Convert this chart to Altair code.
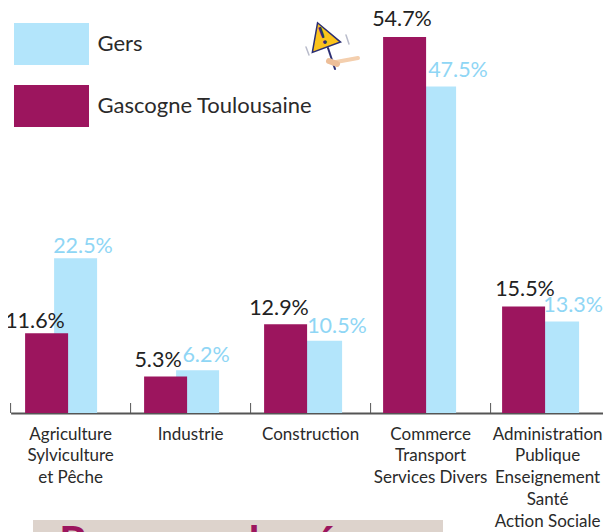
import altair as alt
import pandas as pd

categories = ["Agriculture\nSylviculture\net Pêche", "Industrie", "Construction",
              "Commerce\nTransport\nServices Divers",
              "Administration\nPublique\nEnseignement\nSanté\nAction Sociale"]
gascogne = [11.6, 5.3, 12.9, 54.7, 15.5]
gers = [22.5, 6.2, 10.5, 47.5, 13.3]
series_names = ["Gers", "Gascogne Toulousaine"]
colors = ["#B3E5FB", "#9C155E"]

df = pd.DataFrame({"cat": categories, "Gascogne Toulousaine": gascogne, "Gers": gers})
long = df.melt("cat", var_name="serie", value_name="val")
long["label"] = long["val"].map(lambda v: f"{v:.1f}%")

# Style tweaks per category (pixels)
BAR = 43
purple_off = [-24, -25, -25, -26, -27]
gers_off = [5, 7, 10, 4, 7]
g_dx = [-35.6, -32.6, -31.6, -28.6, -25.6]
g_dy = [-11, -16, -15, -17, -16.5]
l_dx = [12.4, 15.4, 26.4, 27.4, 22.5]
l_dy = [-11, -14, -14, -15, -15.5]

H = 405
x_scale = alt.Scale(range=[0, 600], paddingInner=0, paddingOuter=0)
x_axis = alt.Axis(title=None, labelAngle=0, labelFont="Lato", labelFontSize=17,
                  labelColor="#2a2a2a", labelLimit=0, labelOverlap=False,
                  labelPadding=13, labelLineHeight=21.8, ticks=False,
                  domainColor="#555555", domainWidth=2,
                  labelOffset=alt.expr("datum.index === 1 ? -3 : 0"),
                  labelExpr="split(datum.label, '\\n')")
x = alt.X("cat:N", sort=categories, scale=x_scale, axis=x_axis)
y = alt.Y("val:Q", scale=alt.Scale(domain=[0, 58.9], nice=False), axis=None)
color = alt.Color("serie:N", sort=series_names,
                  scale=alt.Scale(domain=series_names, range=colors),
                  legend=alt.Legend(title=None, orient="none", legendX=19.9, legendY=15,
                                    symbolType="M-1.786,-1H1.786V1H-1.786Z", symbolSize=1764,
                                    symbolStrokeWidth=0, symbolOpacity=1, rowPadding=20,
                                    labelFont="Lato", labelFontSize=22, labelColor="#2a2a2a",
                                    labelOffset=25, labelLimit=0))

OX, OY = 10.6, 8


def px(v):
    return alt.value(v - OX)


def py(v):
    return alt.value(v - OY)


base_src = pd.DataFrame({"k": [0]})
layers = []

# beige panel with clipped heading at the foot of the page
layers.append(alt.Chart(base_src).mark_rect(color="#DDD3CC").encode(
    x=px(33), x2=px(443), y=py(520), y2=py(560)))
layers.append(alt.Chart(base_src).mark_text(font="Lato", fontSize=44, fontWeight="bold", color="#9C155E",
                                            align="left", baseline="alphabetic", text="Revenus des é").encode(
    x=px(59), y=py(558)))

for i, c in enumerate(categories):
    sub = alt.Chart(long[(long.cat == c) & (long.serie == "Gers")])
    layers.append(sub.mark_bar(width=BAR, xOffset=gers_off[i]).encode(x=x, y=y, color=color))
for i, c in enumerate(categories):
    sub = alt.Chart(long[(long.cat == c) & (long.serie == "Gascogne Toulousaine")])
    layers.append(sub.mark_bar(width=BAR, xOffset=purple_off[i]).encode(x=x, y=y, color=color))
for i, c in enumerate(categories):
    a = alt.Chart(long[(long.cat == c) & (long.serie == "Gascogne Toulousaine")]).mark_text(
        font="Lato", fontSize=21.5, color="#222222", dx=g_dx[i], dy=g_dy[i], baseline="middle"
    ).encode(x=x, y=y, text="label:N")
    b = alt.Chart(long[(long.cat == c) & (long.serie == "Gers")]).mark_text(
        font="Lato", fontSize=21.5, color="#8FD6F5", dx=l_dx[i], dy=l_dy[i], baseline="middle"
    ).encode(x=x, y=y, text="label:N")
    layers += [a, b]

# inward ticks on the band boundaries
layers.append(alt.Chart(pd.DataFrame({"cat": categories})).mark_rule(color="#555555", strokeWidth=1).encode(
    x=alt.X("cat:N", sort=categories, bandPosition=0, scale=x_scale, axis=x_axis),
    y=alt.value(H - 10), y2=alt.value(H)))


# little warning-sign pictogram
def seg(x1, y1, x2, y2, col, w):
    return alt.Chart(base_src).mark_rule(color=col, strokeWidth=w, strokeCap="round").encode(
        x=px(x1), x2=px(x2), y=py(y1), y2=py(y2))


layers += [
    seg(328, 48, 335, 69, "#2B2E73", 2),
    seg(336, 62, 358, 58, "#F4CFAE", 4),
    seg(329, 61, 337, 64, "#EDBE98", 6),
    seg(306, 47, 309, 55, "#B9BCCB", 1.5),
    seg(346, 35, 349, 44, "#B9BCCB", 1.5),
]
layers.append(alt.Chart(base_src).mark_point(shape="triangle-up", size=900, filled=True, opacity=1, angle=340,
                                             fill="#FBC31C", stroke="#2B2E73", strokeWidth=1.5).encode(
    x=px(322), y=py(35)))
layers.append(alt.Chart(base_src).mark_text(text="!", font="Lato", fontSize=24, fontWeight="bold", color="#2B2E73",
                                            angle=340, baseline="middle").encode(x=px(323), y=py(37)))

chart = alt.layer(*layers).properties(
    width=592.4, height=H,
    padding={"left": 2.6, "top": 0, "right": 0, "bottom": 119},
    autosize=alt.AutoSizeParams(type="none"),
).configure_view(stroke=None)
chart.save("out.html", embed_options={"renderer": "svg", "actions": False})
